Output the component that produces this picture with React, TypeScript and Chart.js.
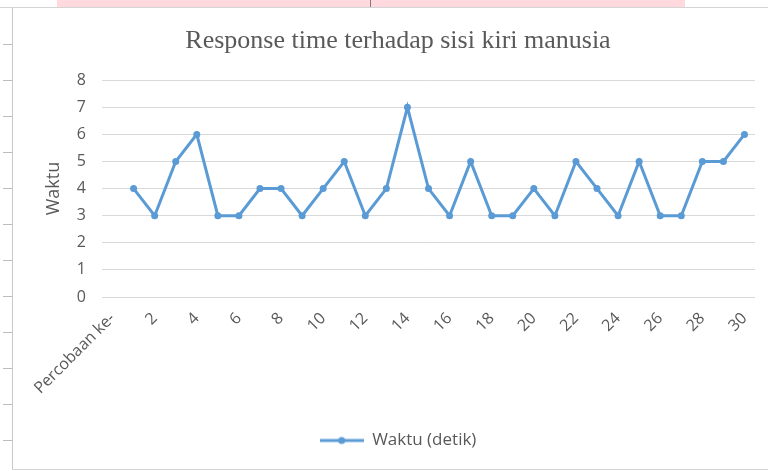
import React, { useEffect, useRef } from "react";
import { Chart, registerables } from "chart.js";

Chart.register(...registerables);

const chartTitle = "Response time terhadap sisi kiri manusia";
const yAxisTitle = "Waktu";
const seriesName = "Waktu (detik)";
const categories = [
  "Percobaan ke-", "1", "2", "3", "4", "5", "6", "7", "8", "9", "10",
  "11", "12", "13", "14", "15", "16", "17", "18", "19", "20",
  "21", "22", "23", "24", "25", "26", "27", "28", "29", "30",
];
const waktu = [
  null, 4, 3, 5, 6, 3, 3, 4, 4, 3, 4,
  5, 3, 4, 7, 4, 3, 5, 3, 3, 4,
  3, 5, 4, 3, 5, 3, 3, 5, 5, 6,
];
const yMin = 0;
const yMax = 8;
const yStep = 1;

const LINE = "#5B9BD5";
const TEXT = "#595959";
const FONT = "'Open Sans', sans-serif";

export default function App() {
  const ref = useRef<HTMLCanvasElement | null>(null);

  useEffect(() => {
    if (!ref.current) return;
    const img = document.createElement("canvas");
    img.width = 44;
    img.height = 12;
    const c = img.getContext("2d")!;
    c.strokeStyle = LINE;
    c.lineWidth = 3;
    c.beginPath();
    c.moveTo(0, 6);
    c.lineTo(44, 6);
    c.stroke();
    c.fillStyle = LINE;
    c.beginPath();
    c.arc(22, 6, 3.5, 0, Math.PI * 2);
    c.fill();

    const chart = new Chart(ref.current, {
      type: "line",
      data: {
        labels: categories,
        datasets: [
          {
            label: seriesName,
            data: waktu,
            borderColor: LINE,
            backgroundColor: LINE,
            borderWidth: 3,
            pointRadius: 3.5,
            pointBackgroundColor: LINE,
            pointBorderWidth: 0,
            tension: 0,
          },
        ],
      },
      options: {
        animation: false,
        responsive: false,
        devicePixelRatio: 1,
        layout: { padding: { left: 28, right: 13, top: 0, bottom: 9 } },
        plugins: {
          title: {
            display: true,
            text: chartTitle,
            color: TEXT,
            font: { family: "'Liberation Serif', serif", size: 26, weight: "normal" },
            padding: { top: 17, bottom: 23 },
          },
          legend: {
            position: "bottom",
            labels: {
              usePointStyle: true,
              pointStyleWidth: 44,
              boxHeight: 12,
              padding: 10,
              color: TEXT,
              font: { family: FONT, size: 17 },
              generateLabels: () => [
                {
                  text: seriesName,
                  pointStyle: img as any,
                  fillStyle: "transparent",
                  strokeStyle: "transparent",
                  lineWidth: 0,
                  hidden: false,
                  datasetIndex: 0,
                  fontColor: TEXT,
                } as any,
              ],
            },
          },
          tooltip: { enabled: false },
        },
        scales: {
          x: {
            type: "category",
            offset: true,
            grid: { display: false },
            border: { display: false },
            ticks: {
              autoSkip: false,
              minRotation: 45,
              maxRotation: 45,
              padding: 4,
              color: TEXT,
              font: { family: FONT, size: 16 },
              callback: (_v: any, i: number) => (i % 2 === 0 ? categories[i] : null),
            },
            afterFit: (s: any) => {
              s.height = 125;
            },
          },
          y: {
            min: yMin,
            max: yMax,
            ticks: { stepSize: yStep, padding: 16, color: TEXT, font: { family: FONT, size: 16 } },
            grid: { color: "#D9D9D9", drawTicks: false, lineWidth: 1 },
            border: { display: false },
            title: {
              display: true,
              text: yAxisTitle,
              color: TEXT,
              font: { family: FONT, size: 18 },
              padding: { top: 2, bottom: 0 },
            },
            afterFit: (s: any) => {
              s.width = 61;
            },
          },
        },
      },
    });
    return () => chart.destroy();
  }, []);

  const rulerTicks = [44, 80, 116, 152, 188, 224, 260, 296, 332, 368, 404, 440];

  return (
    <div style={{ position: "absolute", left: 0, top: 0, width: 768, height: 471, background: "#fff", overflow: "hidden" }}>
      <div style={{ position: "absolute", left: 57, top: 0, width: 628, height: 7, background: "#FFD9DE" }} />
      <div style={{ position: "absolute", left: 370, top: 0, width: 1, height: 7, background: "#7F7F7F" }} />
      <div style={{ position: "absolute", left: 0, top: 7, width: 768, height: 1, background: "#D4D4D4" }} />
      <div style={{ position: "absolute", left: 12, top: 8, width: 1, height: 462, background: "#C8C8C8" }} />
      <div style={{ position: "absolute", left: 12, top: 469, width: 756, height: 1, background: "#D4D4D4" }} />
      {rulerTicks.map((y) => (
        <div key={y} style={{ position: "absolute", left: 3, top: y, width: 9, height: 1, background: "#BDBDBD" }} />
      ))}
      <canvas
        ref={ref}
        width={755}
        height={459}
        style={{ position: "absolute", left: 13, top: 9, width: 755, height: 459 }}
      />
    </div>
  );
}
